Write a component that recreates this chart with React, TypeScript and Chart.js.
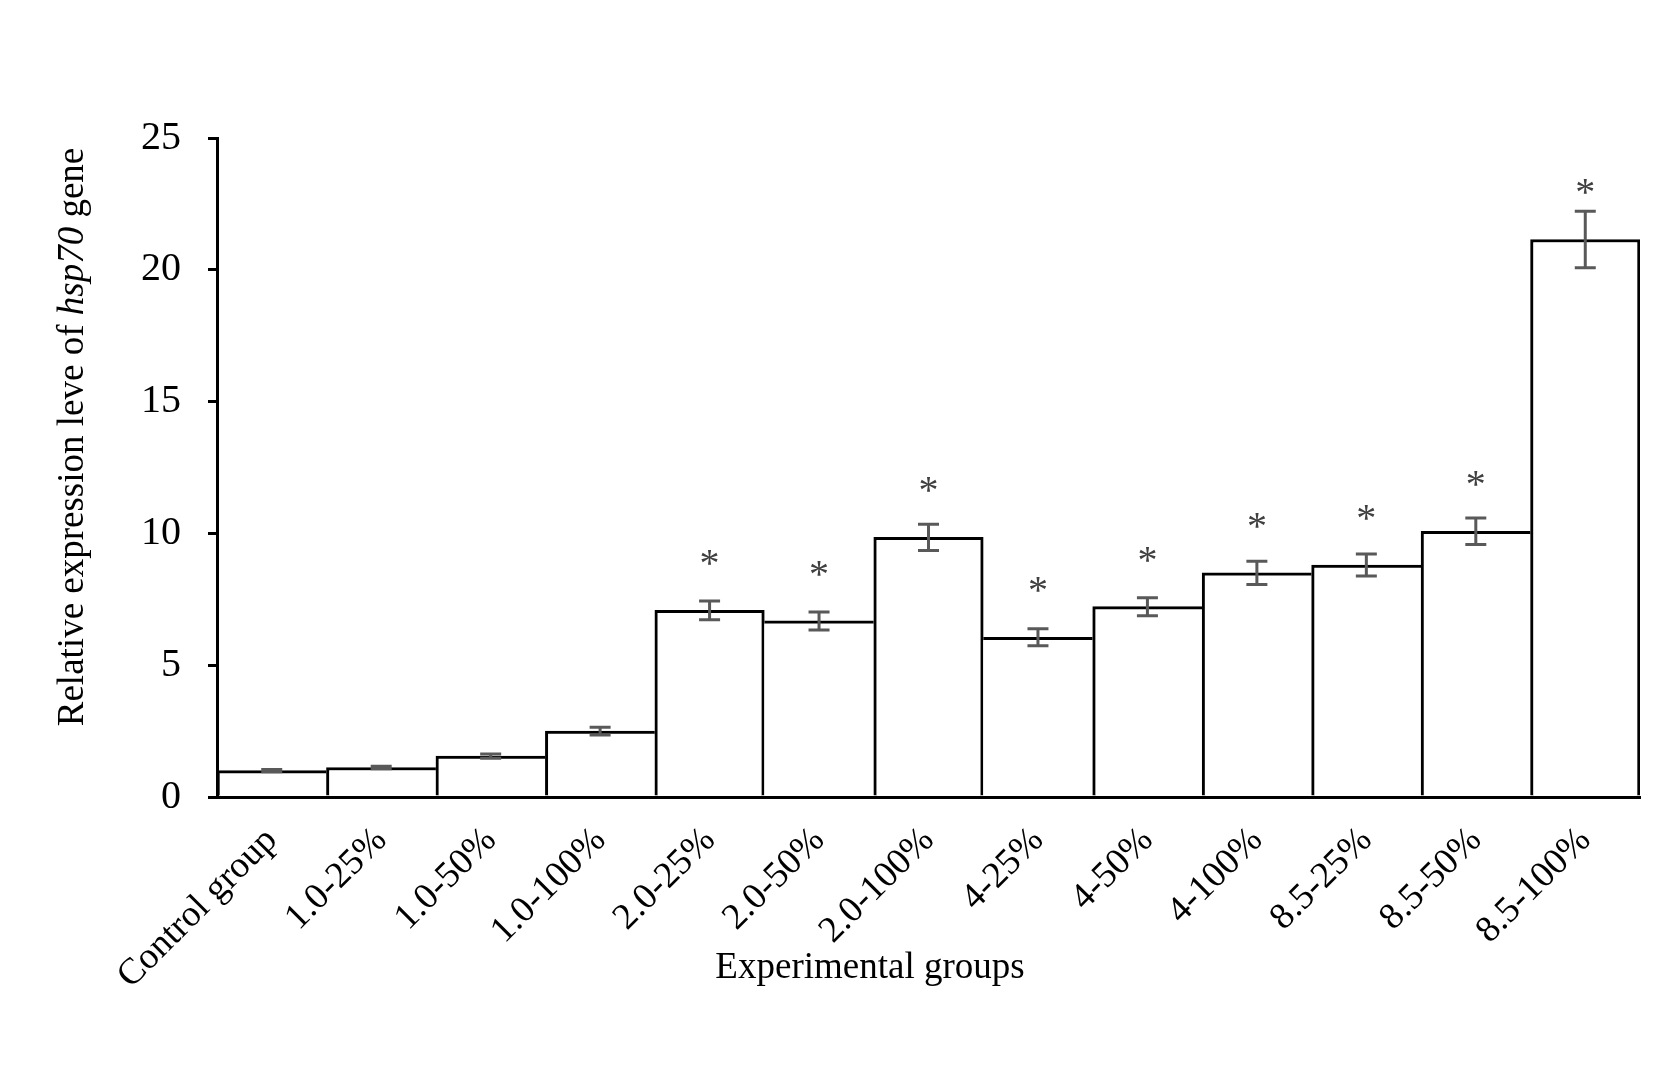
import React, { useEffect, useRef } from "react";
import { Chart, registerables } from "chart.js";

Chart.register(...registerables);

const categories = [
  "Control group",
  "1.0-25%",
  "1.0-50%",
  "1.0-100%",
  "2.0-25%",
  "2.0-50%",
  "2.0-100%",
  "4-25%",
  "4-50%",
  "4-100%",
  "8.5-25%",
  "8.5-50%",
  "8.5-100%",
];
const means = [1.0, 1.12, 1.55, 2.5, 7.08, 6.68, 9.85, 6.06, 7.22, 8.5, 8.8, 10.08, 21.15];
const errors = [0.04, 0.05, 0.08, 0.15, 0.36, 0.34, 0.5, 0.32, 0.34, 0.44, 0.42, 0.5, 1.07];
const significant = [false, false, false, false, true, true, true, true, true, true, true, true, true];
const yTicks = [0, 5, 10, 15, 20, 25];

const SERIF = '"Liberation Serif", "Times New Roman", serif';

const overlayPlugin = {
  id: "overlay",
  afterDatasetsDraw(chart: any) {
    const ctx = chart.ctx;
    const x = chart.scales.x;
    const y = chart.scales.y;
    ctx.save();
    // error bars
    ctx.strokeStyle = "#595959";
    ctx.lineWidth = 3;
    const cap = 10.5;
    means.forEach((m, i) => {
      const px = x.getPixelForValue(i);
      const top = y.getPixelForValue(m + errors[i]);
      const bot = y.getPixelForValue(m - errors[i]);
      ctx.beginPath();
      ctx.moveTo(px, top);
      ctx.lineTo(px, bot);
      ctx.moveTo(px - cap, top);
      ctx.lineTo(px + cap, top);
      ctx.moveTo(px - cap, bot);
      ctx.lineTo(px + cap, bot);
      ctx.stroke();
    });
    // significance marks
    ctx.fillStyle = "#404040";
    ctx.font = `40px ${SERIF}`;
    ctx.textAlign = "center";
    ctx.textBaseline = "alphabetic";
    means.forEach((m, i) => {
      if (!significant[i]) return;
      const px = x.getPixelForValue(i);
      const py = y.getPixelForValue(m) - 53 + 19;
      ctx.fillText("*", px, py);
    });
    ctx.restore();
  },
  afterDraw(chart: any) {
    const ctx = chart.ctx;
    ctx.save();
    ctx.fillStyle = "#000";
    // x title
    ctx.font = `37px ${SERIF}`;
    ctx.textAlign = "center";
    ctx.textBaseline = "alphabetic";
    ctx.fillText("Experimental groups", 870, 978);
    // y title with italic gene name
    const parts = [
      { t: "Relative expression leve of ", f: `37px ${SERIF}` },
      { t: "hsp70", f: `italic 37px ${SERIF}` },
      { t: " gene", f: `37px ${SERIF}` },
    ];
    let total = 0;
    parts.forEach((p) => {
      ctx.font = p.f;
      total += ctx.measureText(p.t).width;
    });
    ctx.translate(83, 437);
    ctx.rotate(-Math.PI / 2);
    ctx.textAlign = "left";
    let cx = -total / 2;
    parts.forEach((p) => {
      ctx.font = p.f;
      ctx.fillText(p.t, cx, 0);
      cx += ctx.measureText(p.t).width;
    });
    ctx.restore();
  },
};

export default function App() {
  const ref = useRef<HTMLCanvasElement | null>(null);
  useEffect(() => {
    if (!ref.current) return;
    const last = means.length - 1;
    const chart = new Chart(ref.current, {
      type: "bar",
      data: {
        labels: categories,
        datasets: [
          {
            data: means,
            backgroundColor: "#ffffff",
            borderColor: "#000000",
            borderWidth: (c: any) => {
              const i = c.dataIndex;
              return {
                top: 3,
                left: i === 0 || means[i - 1] < means[i] ? 3 : 0,
                right: i === last || means[i + 1] < means[i] ? 3 : 0,
                bottom: 0,
              };
            },
            borderSkipped: false,
            categoryPercentage: 1,
            barPercentage: 1,
          } as any,
        ],
      },
      options: {
        animation: false,
        responsive: false,
        devicePixelRatio: 1,
        layout: { padding: { top: 138, right: 25, left: 0, bottom: 0 } },
        plugins: { legend: { display: false }, tooltip: { enabled: false } },
        scales: {
          x: {
            grid: { display: false, drawTicks: false },
            border: { display: true, color: "#000", width: 3 },
            ticks: {
              autoSkip: false,
              minRotation: 45,
              maxRotation: 45,
              padding: 22,
              color: "#000",
              font: { family: SERIF, size: 37 },
            },
            afterFit(scale: any) {
              scale.height = 281;
            },
          },
          y: {
            min: 0,
            max: 25,
            afterBuildTicks(scale: any) {
              scale.ticks = yTicks.map((v) => ({ value: v }));
            },
            grid: {
              display: true,
              drawOnChartArea: false,
              drawTicks: true,
              tickLength: 9,
              color: "#000",
              lineWidth: 3,
            },
            border: { display: true, color: "#000", width: 3 },
            ticks: {
              padding: 27,
              color: "#000",
              font: { family: SERIF, size: 40 },
            },
            afterFit(scale: any) {
              scale.width = 217;
            },
          },
        },
      },
      plugins: [overlayPlugin],
    });
    return () => chart.destroy();
  }, []);
  return (
    <div style={{ position: "absolute", left: 0, top: 0, width: 1665, height: 1078, background: "#fff" }}>
      <canvas ref={ref} width={1665} height={1078} style={{ display: "block" }} />
    </div>
  );
}
